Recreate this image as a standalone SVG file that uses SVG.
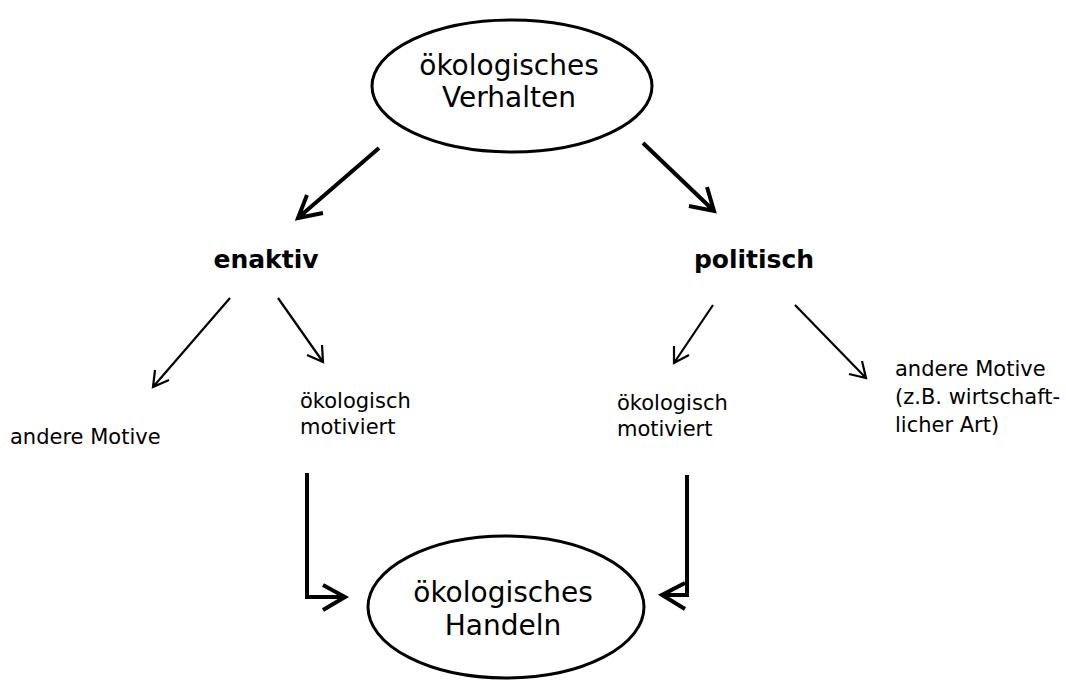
<svg xmlns="http://www.w3.org/2000/svg" width="1066" height="681" viewBox="0 0 1066 681">
<style>
.el{fill:none;stroke:#000;stroke-width:3}
.big{font-family:"DejaVu Sans","Liberation Sans",sans-serif;font-size:28px;fill:#000;text-anchor:middle}
.mid{font-family:"DejaVu Sans","Liberation Sans",sans-serif;font-size:25px;font-weight:bold;fill:#000;text-anchor:middle}
.sm{font-family:"DejaVu Sans","Liberation Sans",sans-serif;font-size:21px;fill:#000}
.thick{fill:none;stroke:#000;stroke-width:4}
.thin{fill:none;stroke:#000;stroke-width:2.2}
</style>
<rect width="1066" height="681" fill="#fff"/>
<g id="node-verhalten">
<ellipse class="el" cx="512" cy="86" rx="140" ry="66"/>
<text class="big" x="509" y="75">ökologisches</text>
<text class="big" x="509" y="107">Verhalten</text>
</g>
<g id="node-enaktiv"><text class="mid" x="266" y="268">enaktiv</text></g>
<g id="node-politisch"><text class="mid" x="754" y="268">politisch</text></g>
<g id="node-andere-links"><text class="sm" x="10" y="444">andere Motive</text></g>
<g id="node-oeko-links"><text class="sm" x="300" y="408">ökologisch</text><text class="sm" x="300" y="434">motiviert</text></g>
<g id="node-oeko-rechts"><text class="sm" x="617" y="410">ökologisch</text><text class="sm" x="617" y="436">motiviert</text></g>
<g id="node-andere-rechts"><text class="sm" x="895" y="376">andere Motive</text><text class="sm" x="895" y="404">(z.B. wirtschaft-</text><text class="sm" x="895" y="432">licher Art)</text></g>
<g id="node-handeln">
<ellipse class="el" cx="506" cy="607" rx="138" ry="71"/>
<text class="big" x="503" y="602">ökologisches</text>
<text class="big" x="503" y="635">Handeln</text>
</g>
<g id="connectors">
<path class="thick" d="M379,148 L298,218 M307,195 L298,218 L323,213"/>
<path class="thick" d="M643,143 L714,211 M707,187 L714,211 L689,206"/>
<path class="thin" d="M230,298 L153,387 M155,370 L153,387 L169,380"/>
<path class="thin" d="M278,298 L323,362 M322,345 L323,362 L307,355"/>
<path class="thin" d="M713,305 L674,363 M674,346 L674,363 L689,355"/>
<path class="thin" d="M795,305 L866,378 M862,361 L866,378 L849,374"/>
<path class="thick" d="M307,473 L307,597 L345,597 M323,585 L345,597 L323,610"/>
<path class="thick" d="M687,475 L687,595 L662,595 M685,583 L662,595 L685,609"/>
</g>
</svg>
